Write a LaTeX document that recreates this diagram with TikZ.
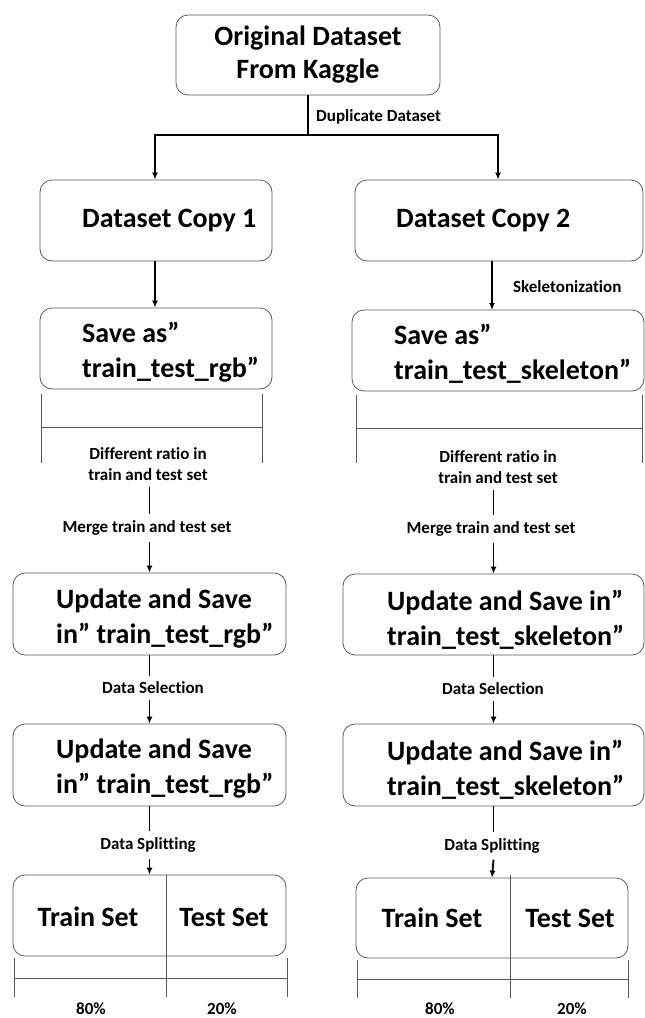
\documentclass[tikz,border=0pt]{standalone}
\usepackage{fontspec}
\setmainfont[Ligatures=NoCommon]{Carlito}
\usetikzlibrary{arrows.meta,calc}
\begin{document}
\begin{tikzpicture}[x=1pt,y=-1pt,
  box/.style={draw=black!65, line width=0.8pt, rounded corners=12pt, inner sep=0pt},
  big/.style={font=\bfseries\fontsize{28}{35}\selectfont, align=left, inner sep=0pt},
  lbl/.style={font=\bfseries\fontsize{17}{21}\selectfont, align=center, inner sep=0pt},
  chain/.style={lbl, inner ysep=6pt},
  arr/.style={line width=1.8pt, -{Latex[length=7pt,width=6pt]}},
  ln/.style={line width=1.8pt},
  thin/.style={draw=black!65, line width=0.8pt}]
\useasboundingbox (0,0) rectangle (645,1018);

% top
\node[box, minimum width=264pt, minimum height=80pt, align=center,
  font=\bfseries\fontsize{28}{33}\selectfont] (orig) at (308,55) {Original Dataset\\From Kaggle};
\coordinate (split) at (308,135);
\coordinate (hl) at (155,135);
\coordinate (hr) at (498,135);
\node[lbl, anchor=west] (dup) at (316,117) {Duplicate Dataset};

% copies
\node[box, minimum width=232pt, minimum height=81pt] (copy1) at (156,220.5) {};
\node[big, anchor=west] (copy1t) at (82,221) {Dataset Copy 1};
\node[box, minimum width=288pt, minimum height=81pt] (copy2) at (499,220.5) {};
\node[big, anchor=west] (copy2t) at (396,221) {Dataset Copy 2};

\draw[ln] (orig.south) -- (split);
\draw[arr] (split) -- (hl) -- (hl |- copy1.north);
\draw[arr] (split) -- (hr) -- (hr |- copy2.north);

% save as
\node[box, minimum width=232pt, minimum height=81pt] (save1) at (156,348.5) {};
\node[big, anchor=west] (save1t) at (82,352) {Save as”\\train\_test\_rgb”};
\node[box, minimum width=292pt, minimum height=81pt] (save2) at (498,350.5) {};
\node[big, anchor=west] (save2t) at (394,354) {Save as”\\train\_test\_skeleton”};

\draw[arr] (hl |- copy1.south) -- (hl |- save1.north);
\coordinate (c2a) at (492,261);
\coordinate (c2b) at (492,310);
\draw[arr] (c2a) -- (c2b);
\node[lbl, anchor=west] (skel) at (513,287) {Skeletonization};

% brackets under save
\coordinate (b1a) at (41,394); \coordinate (b1b) at (41,463);
\coordinate (b1c) at (262,394); \coordinate (b1d) at (262,463);
\coordinate (b1e) at (41,427); \coordinate (b1f) at (262,427);
\draw[thin] (b1a) -- (b1b) (b1c) -- (b1d) (b1e) -- (b1f);
\coordinate (b2a) at (356,395); \coordinate (b2b) at (356,463);
\coordinate (b2c) at (642,395); \coordinate (b2d) at (642,463);
\coordinate (b2e) at (356,428); \coordinate (b2f) at (642,428);
\draw[thin] (b2a) -- (b2b) (b2c) -- (b2d) (b2e) -- (b2f);

% ratio / merge labels
\node[chain] (diff1) at (148,464) {Different ratio in\\train and test set};
\node[chain] (merge1) at (147,528) {Merge train and test set};
\node[chain] (diff2) at (498,467) {Different ratio in\\train and test set};
\node[chain] (merge2) at (491,529) {Merge train and test set};

% update boxes
\node[box, minimum width=273pt, minimum height=82pt] (upd1) at (149.5,614) {};
\node[big, anchor=west] (upd1t) at (56,619) {Update and Save\\in” train\_test\_rgb”};
\node[box, minimum width=301pt, minimum height=81pt] (upd2) at (493.5,614.5) {};
\node[big, anchor=west] (upd2t) at (387,620) {Update and Save in”\\train\_test\_skeleton”};

\draw[ln] (diff1.south -| upd1.north) -- (merge1.north -| upd1.north);
\draw[arr] (merge1.south -| upd1.north) -- (upd1.north);
\draw[ln] (diff2.south -| upd2.north) -- (merge2.north -| upd2.north);
\draw[arr] (merge2.south -| upd2.north) -- (upd2.north);

\node[chain] (sel1) at (153,688) {Data Selection};
\node[chain] (sel2) at (493,689) {Data Selection};

\node[box, minimum width=273pt, minimum height=82pt] (updb1) at (149.5,765) {};
\node[big, anchor=west] (updb1t) at (56,769) {Update and Save\\in” train\_test\_rgb”};
\node[box, minimum width=301pt, minimum height=82pt] (updb2) at (493.5,765) {};
\node[big, anchor=west] (updb2t) at (387,770) {Update and Save in”\\train\_test\_skeleton”};

\draw[ln] (upd1.south) -- (sel1.north -| upd1.south);
\draw[arr] (sel1.south -| upd1.south) -- (updb1.north);
\draw[ln] (upd2.south) -- (sel2.north -| upd2.south);
\draw[arr] (sel2.south -| upd2.south) -- (updb2.north);

\node[chain] (spl1) at (148,845) {Data Splitting};
\node[chain] (spl2) at (492,846) {Data Splitting};

% split boxes
\node[box, minimum width=273pt, minimum height=81pt] (sb1) at (149.5,915.5) {};
\node[box, minimum width=272pt, minimum height=80pt] (sb2) at (492,918) {};

\draw[ln] (updb1.south) -- (spl1.north -| updb1.south);
\draw[arr] (spl1.south -| updb1.south) -- (sb1.north);
\draw[ln] (updb2.south) -- (spl2.north -| updb2.south);
\draw[arr] (spl2.south -| updb2.south) -- (sb2.north);

\node[big, anchor=base] (train1) at (88,926) {Train Set};
\node[big, anchor=base] (test1) at (224,926) {Test Set};
\node[big, anchor=base] (train2) at (432,927) {Train Set};
\node[big, anchor=base] (test2) at (570,927) {Test Set};

% dividers and brackets under split boxes
\coordinate (d1a) at (166,875); \coordinate (d1b) at (166,997);
\coordinate (l1a) at (14,958); \coordinate (l1b) at (14,997);
\coordinate (r1a) at (287,958); \coordinate (r1b) at (287,997);
\coordinate (h1a) at (14,978); \coordinate (h1b) at (287,978);
\draw[thin] (d1a) -- (d1b) (l1a) -- (l1b) (r1a) -- (r1b) (h1a) -- (h1b);
\coordinate (d2a) at (510,875); \coordinate (d2b) at (510,998);
\coordinate (l2a) at (357,960); \coordinate (l2b) at (357,998);
\coordinate (r2a) at (628,960); \coordinate (r2b) at (628,998);
\coordinate (h2a) at (357,979); \coordinate (h2b) at (628,979);
\draw[thin] (d2a) -- (d2b) (l2a) -- (l2b) (r2a) -- (r2b) (h2a) -- (h2b);

\node[lbl, anchor=base] (p80a) at (91,1014) {80\%};
\node[lbl, anchor=base] (p20a) at (222,1014) {20\%};
\node[lbl, anchor=base] (p80b) at (440,1014) {80\%};
\node[lbl, anchor=base] (p20b) at (572,1014) {20\%};
\end{tikzpicture}
\end{document}
